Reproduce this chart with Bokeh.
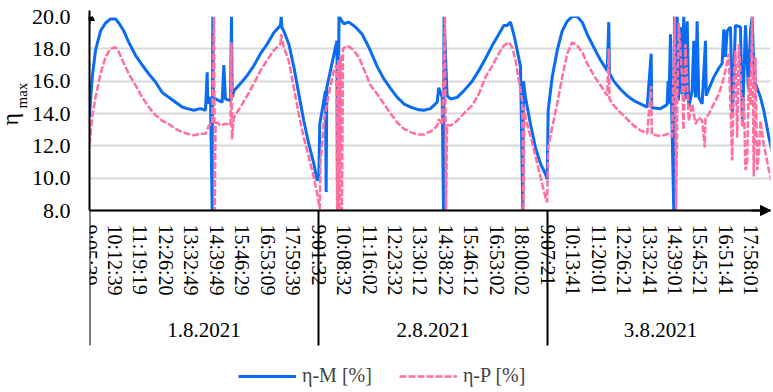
import math
from bokeh.plotting import figure
from bokeh.models import (LinearAxis, FixedTicker, Range1d, Arrow, NormalHead, Title,
                          Legend, LegendItem, NumeralTickFormatter, ColumnDataSource, Grid)
from bokeh.embed import file_html
from bokeh.resources import INLINE

# ---------------- data ----------------
TICK_STEP = 402  # samples between two category labels (Excel category axis)

time_labels = [
    "9:05:39", "10:12:39", "11:19:19", "12:26:20", "13:32:49", "14:39:49", "15:46:29", "16:53:09", "17:59:39",
    "9:01:32", "10:08:32", "11:16:02", "12:23:32", "13:30:12", "14:38:22", "15:46:12", "16:53:02", "18:00:02",
    "9:07:21", "10:13:41", "11:20:01", "12:26:21", "13:32:41", "14:39:01", "15:45:21", "16:51:41", "17:58:01",
]
date_labels = ["1.8.2021", "2.8.2021", "3.8.2021"]
day_start_label_index = [0, 9, 18]
last_sample = 10800

y_ticks = [8, 10, 12, 14, 16, 18, 20]

m_sample = [0, 16, 43, 95, 174, 253, 332, 411, 463, 542, 621, 726, 832, 936, 1042, 1148, 1252, 1358, 1464,
            1543, 1647, 1753, 1832, 1858, 1868, 1884, 1911, 1937, 1947, 1958, 1990, 2042, 2095, 2121, 2147,
            2226, 2242, 2253, 2279, 2384, 2490, 2594, 2700, 2806, 2910, 3016, 3027, 3040, 3068, 3147, 3226,
            3305, 3384, 3463, 3542, 3596, 3621, 3636, 3674, 3726, 3737, 3747, 3805, 3884, 3908, 3916, 3940,
            3963, 4015, 4094, 4200, 4306, 4410, 4543, 4647, 4753, 4859, 4963, 5069, 5175, 5279, 5384, 5437,
            5490, 5515, 5569, 5590, 5598, 5647, 5700, 5806, 5910, 6043, 6147, 6253, 6359, 6463, 6542, 6596,
            6648, 6700, 6754, 6806, 6842, 6853, 6884, 6963, 7042, 7121, 7200, 7227, 7243, 7306, 7385, 7464,
            7543, 7622, 7701, 7780, 7859, 7963, 8069, 8175, 8200, 8211, 8279, 8385, 8490, 8594, 8700, 8806,
            8869, 8879, 9016, 9121, 9137, 9150, 9174, 9190, 9226, 9237, 9261, 9280, 9300, 9332, 9355, 9384,
            9411, 9438, 9463, 9516, 9542, 9569, 9595, 9621, 9674, 9727, 9738, 9779, 9858, 9937, 9990, 10016,
            10042, 10069, 10121, 10153, 10200, 10279, 10311, 10358, 10405, 10437, 10464, 10489, 10516, 10595,
            10647, 10727, 10800]
m_value = [13.8, 14.8, 16.25, 17.9, 19.1, 19.6, 19.85, 19.85, 19.6, 19.1, 18.4, 17.6, 17.0, 16.45, 15.95, 15.3,
           15.0, 14.7, 14.4, 14.3, 14.2, 14.3, 14.2, 16.55, 14.6, 15.0, 14.9, 8.0, 20.0, 14.9, 14.9, 14.8,
           14.7, 17.0, 14.9, 14.8, 20.0, 15.0, 15.4, 15.85, 16.35, 16.95, 17.7, 18.3, 19.0, 19.45, 20.0, 19.3,
           19.1, 18.3, 16.9, 15.2, 13.55, 12.1, 10.9, 9.85, 10.05, 13.35, 14.2, 15.4, 9.15, 15.6, 16.65, 18.1,
           18.5, 8.0, 20.0, 19.85, 19.55, 19.65, 19.35, 18.9, 18.1, 16.9, 16.15, 15.55, 15.0, 14.6, 14.4,
           14.25, 14.2, 14.3, 14.5, 14.7, 15.6, 15.0, 8.0, 20.0, 15.1, 14.9, 15.0, 15.4, 16.0, 16.65, 17.4,
           18.2, 18.9, 19.45, 19.45, 19.65, 18.9, 17.9, 16.9, 8.0, 16.0, 15.0, 13.35, 11.9, 10.9, 10.25, 9.95,
           14.2, 16.25, 17.9, 19.1, 19.7, 20.0, 20.0, 19.65, 18.9, 18.1, 17.3, 16.65, 19.65, 16.5, 16.0, 15.5,
           15.1, 14.8, 14.6, 14.4, 17.7, 14.35, 14.3, 14.55, 16.0, 14.6, 18.9, 14.8, 8.0, 20.0, 15.5, 20.0,
           14.8, 19.35, 15.2, 20.0, 14.9, 19.7, 14.4, 15.4, 18.5, 15.0, 19.7, 15.0, 14.6, 18.5, 15.1, 15.5,
           16.25, 16.8, 17.1, 19.2, 17.5, 19.1, 19.35, 14.0, 19.45, 19.35, 13.5, 19.45, 15.5, 19.1, 20.0, 17.0,
           15.85, 15.0, 14.2, 12.55, 11.3]

p_sample = [0, 43, 95, 174, 253, 332, 411, 463, 542, 621, 726, 832, 936, 1042, 1148, 1252, 1358, 1464, 1543,
            1647, 1753, 1832, 1884, 1937, 1966, 1979, 1990, 2016, 2068, 2121, 2174, 2226, 2242, 2250, 2279,
            2384, 2490, 2594, 2700, 2806, 2910, 3016, 3027, 3068, 3147, 3226, 3305, 3384, 3463, 3542, 3596,
            3636, 3647, 3674, 3700, 3779, 3858, 3900, 3911, 3927, 3948, 3963, 3987, 4003, 4069, 4148, 4252,
            4358, 4437, 4543, 4647, 4753, 4859, 4963, 5069, 5175, 5279, 5384, 5432, 5490, 5515, 5569, 5613,
            5629, 5647, 5700, 5806, 5910, 6043, 6147, 6253, 6359, 6463, 6542, 6621, 6675, 6727, 6779, 6832,
            6853, 6864, 6884, 6937, 6990, 7069, 7148, 7200, 7227, 7243, 7306, 7385, 7464, 7543, 7622, 7701,
            7780, 7859, 7963, 8069, 8175, 8200, 8211, 8279, 8385, 8490, 8594, 8700, 8806, 8869, 8879, 9016,
            9147, 9200, 9241, 9263, 9280, 9305, 9358, 9379, 9411, 9463, 9516, 9569, 9621, 9674, 9715, 9727,
            9779, 9858, 9937, 9990, 10042, 10095, 10148, 10174, 10200, 10227, 10253, 10279, 10306, 10332,
            10358, 10385, 10411, 10437, 10464, 10489, 10516, 10543, 10569, 10595, 10647, 10727, 10800]
p_value = [12.1, 13.8, 15.0, 16.45, 17.5, 18.0, 18.1, 17.8, 17.1, 16.45, 15.75, 15.0, 14.4, 13.9, 13.55, 13.35,
           13.05, 12.85, 12.75, 12.65, 12.75, 12.75, 13.25, 13.35, 20.0, 8.0, 13.4, 13.45, 13.25, 13.35, 13.35,
           13.25, 18.4, 12.4, 13.75, 14.4, 15.1, 15.85, 16.65, 17.3, 17.9, 18.3, 18.9, 18.1, 17.25, 15.6, 13.95,
           12.5, 11.3, 10.05, 9.0, 8.1, 11.0, 12.1, 13.55, 15.2, 16.65, 17.0, 8.0, 17.3, 8.0, 17.6, 8.0, 18.0,
           18.2, 18.0, 17.5, 16.5, 15.75, 15.2, 14.6, 14.0, 13.45, 13.05, 12.85, 12.7, 12.7, 12.9, 13.0, 13.25,
           13.65, 13.3, 20.0, 8.0, 13.3, 13.25, 13.55, 14.0, 14.5, 15.2, 16.25, 16.95, 17.7, 18.2, 18.4, 18.1,
           17.3, 16.05, 14.8, 8.0, 14.4, 13.75, 12.95, 12.2, 10.9, 9.65, 8.8, 8.5, 11.9, 13.15, 14.6, 16.25,
           17.7, 18.4, 18.2, 17.8, 17.1, 16.35, 15.75, 15.1, 18.0, 14.9, 14.5, 14.05, 13.65, 13.25, 12.95,
           12.75, 15.7, 12.7, 12.6, 12.75, 12.55, 20.0, 8.0, 14.2, 19.6, 16.25, 13.0, 18.3, 13.55, 14.6, 13.35,
           13.75, 13.55, 11.9, 13.75, 13.95, 14.6, 15.2, 15.85, 16.65, 17.7, 11.1, 16.0, 17.9, 12.5, 18.3, 16.5,
           13.15, 15.0, 10.5, 11.0, 16.25, 14.5, 20.0, 10.1, 17.5, 10.5, 11.5, 13.55, 12.1, 10.5, 9.4]

# ---------------- style / layout ----------------
FONT = "Liberation Serif"
BLUE = "#0a6cf2"
PINK = "#ff6f9f"
SEP_LEN = 135          # px length of the day separator lines below the axis
PLOT_H = 194           # px height of the 8..20 value band
FRAME_H = 376          # frame reaches down to the bottom of the page (room for labels + legend)
PX_PER_UNIT = PLOT_H / (y_ticks[-1] - y_ticks[0])
y_bottom = y_ticks[0] - (FRAME_H - PLOT_H) / PX_PER_UNIT
date_axis_at = y_ticks[0] - 87 / PX_PER_UNIT   # where the row of dates starts

tick_pos = [i * TICK_STEP for i in range(len(time_labels))]
sep_pos = [i * TICK_STEP for i in day_start_label_index]
day_bounds = sep_pos + [last_sample]
day_centers = [(day_bounds[i] + day_bounds[i + 1]) / 2 for i in range(len(date_labels))]

x_end = 26.75 * TICK_STEP

p = figure(frame_width=681, frame_height=FRAME_H, output_backend="svg", toolbar_location=None,
           x_range=Range1d(0, x_end), y_range=Range1d(y_bottom, y_ticks[-1]),
           x_axis_type=None, y_axis_type=None,
           min_border_left=89, min_border_right=3, min_border_top=16, min_border_bottom=0)
p.outline_line_color = None
p.background_fill_color = "white"

yticker = FixedTicker(ticks=y_ticks)
p.add_layout(Grid(dimension=1, ticker=yticker, grid_line_color="#d9d9d9", grid_line_width=2))

yaxis = LinearAxis(ticker=yticker, formatter=NumeralTickFormatter(format="0.0"),
                   bounds=(y_ticks[0], y_ticks[-1]),
                   major_tick_in=0, major_tick_out=0, minor_tick_in=0, minor_tick_out=0,
                   axis_line_width=2, axis_line_color="black", major_label_standoff=19,
                   major_label_text_font=FONT, major_label_text_font_size="22px",
                   major_label_text_color="black")
p.add_layout(yaxis, "left")

# y axis title: eta with subscript "max"
p.add_layout(Title(text="max", align="left", offset=284, standoff=-3,
                   text_font=FONT, text_font_size="15px", text_font_style="normal",
                   text_color="black"), "left")
p.add_layout(Title(text="η", align="left", offset=267, standoff=-18,
                   text_font=FONT, text_font_size="24px", text_font_style="normal",
                   text_color="black"), "left")

xaxis = LinearAxis(ticker=FixedTicker(ticks=tick_pos, minor_ticks=sep_pos),
                   fixed_location=y_ticks[0],
                   major_label_overrides={t: lab for t, lab in zip(tick_pos, time_labels)},
                   major_label_orientation="vertical",
                   major_tick_in=0, major_tick_out=0,
                   minor_tick_in=0, minor_tick_out=SEP_LEN, minor_tick_line_width=2,
                   minor_tick_line_color="black",
                   axis_line_width=2, axis_line_color="black", major_label_standoff=14 - SEP_LEN,
                   major_label_text_font=FONT, major_label_text_font_size="20px",
                   major_label_text_color="black")
p.add_layout(xaxis, "below")

daxis = LinearAxis(ticker=FixedTicker(ticks=day_centers),
                   fixed_location=date_axis_at,
                   major_label_overrides={t: lab for t, lab in zip(day_centers, date_labels)},
                   axis_line_color=None, major_tick_line_color=None, minor_tick_line_color=None,
                   major_tick_in=0, major_tick_out=0, minor_tick_in=0, minor_tick_out=0,
                   major_label_standoff=25,
                   major_label_text_font=FONT, major_label_text_font_size="21px",
                   major_label_text_color="black")
p.add_layout(daxis, "below")

src_m = ColumnDataSource(dict(x=m_sample, y=m_value))
src_p = ColumnDataSource(dict(x=p_sample, y=p_value))
r_m = p.line("x", "y", source=src_m, line_color=BLUE, line_width=3)
r_p = p.line("x", "y", source=src_p, line_color=PINK, line_width=2.5, line_dash="7 2")

# axis arrows
p.add_layout(Arrow(end=NormalHead(size=10, fill_color="black", line_color="black"),
                   x_start=0, y_start=y_ticks[-1] - 0.5, x_end=0, y_end=y_ticks[-1] + 0.37,
                   line_color="black", line_width=2))
p.add_layout(Arrow(end=NormalHead(size=10, fill_color="black", line_color="black"),
                   x_start=x_end - 300, y_start=y_ticks[0], x_end=x_end, y_end=y_ticks[0],
                   line_color="black", line_width=2))

legend = Legend(items=[LegendItem(label="η-M [%]", renderers=[r_m]),
                       LegendItem(label="η-P [%]", renderers=[r_p])],
                orientation="horizontal", location=(149, 5),
                glyph_width=58, glyph_height=20, label_standoff=6, spacing=27,
                padding=0, margin=0, border_line_color=None, background_fill_alpha=0,
                label_text_font=FONT, label_text_font_size="20px", label_height=20)
p.add_layout(legend)

open("out.html", "w").write(file_html(p, INLINE))
